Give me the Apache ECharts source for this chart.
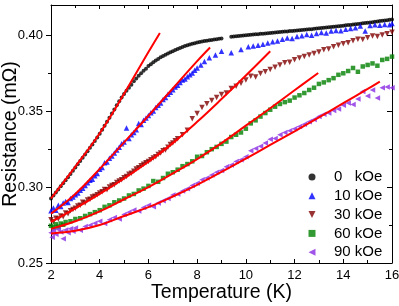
<!DOCTYPE html>
<html>
<head>
<meta charset="utf-8">
<script src="https://cdn.jsdelivr.net/npm/echarts@6/dist/echarts.min.js"></script>
<style>html,body{margin:0;padding:0;background:#fff}#c{width:399px;height:306px}</style>
</head>
<body>
<div id="c"></div>
<script>
// ---- data ----
var seriesNames = ['0   kOe', '10 kOe', '30 kOe', '60 kOe', '90 kOe'];
var xTicks = [2, 4, 6, 8, 10, 12, 14, 16];
var yTickLabels = [0.25, 0.30, 0.35, 0.40];
var yMinorTicks = [0.275, 0.325, 0.375];

var t0 = [2.0,2.1,2.2,2.3,2.4,2.5,2.6,2.7,2.8,2.9,3.0,3.1,3.2,3.3,3.4,3.5,3.6,3.7,3.8,3.9,
          4.0,4.1,4.2,4.3,4.4,4.5,4.6,4.7,4.8,4.9,5.0,5.1,5.2,5.3,5.4,5.5,5.6,5.7,5.8,5.9,
          6.0,6.1,6.2,6.3,6.4,6.5,6.6,6.7,6.8,6.9,7.0,7.1,7.2,7.3,7.4,7.5,7.6,7.7,7.8,7.9,
          8.0,8.1,8.2,8.3,8.4,8.5,8.6,8.7,8.8,8.9,9.0,
          9.4,9.5,9.6,9.7,9.8,9.9,10.0,10.1,10.2,10.3,10.4,10.5,10.6,10.7,10.8,10.9,
          11.0,11.1,11.2,11.3,11.4,11.5,11.6,11.7,11.8,11.9,12.0,12.1,12.2,12.3,12.4,12.5,12.6,12.7,12.8,12.9,
          13.0,13.1,13.2,13.3,13.4,13.5,13.6,13.7,13.8,13.9,14.0,14.1,14.2,14.3,14.4,14.5,14.6,14.7,14.8,14.9,
          15.0,15.1,15.2,15.3,15.4,15.5,15.6,15.7,15.8,15.9,16.0];
var r0 = [0.2925,0.2945,0.2965,0.2985,0.3005,0.3025,0.3045,0.3065,0.3086,0.3108,0.3130,0.3151,0.3172,0.3193,0.3215,0.3237,0.3259,0.3281,0.3304,0.3327,
          0.3352,0.3378,0.3404,0.3430,0.3457,0.3485,0.3512,0.3540,0.3565,0.3590,0.3613,0.3635,0.3655,0.3675,0.3697,0.3716,0.3734,0.3750,0.3766,0.3780,
          0.3798,0.3810,0.3822,0.3834,0.3845,0.3855,0.3864,0.3872,0.3880,0.3888,0.3896,0.3903,0.3910,0.3917,0.3924,0.3930,0.3935,0.3940,0.3944,0.3948,
          0.3953,0.3957,0.3960,0.3963,0.3965,0.3968,0.3970,0.3972,0.3975,0.3977,0.3980,
          0.3990,0.3992,0.3994,0.3996,0.3998,0.3999,0.4001,0.4002,0.4004,0.4005,0.4007,0.4008,0.4010,0.4011,0.4013,0.4014,
          0.4016,0.4017,0.4019,0.4020,0.4022,0.4023,0.4025,0.4026,0.4028,0.4029,0.4031,0.4032,0.4034,0.4035,0.4037,0.4038,0.4040,0.4041,0.4043,0.4045,
          0.4047,0.4048,0.4050,0.4051,0.4053,0.4055,0.4057,0.4058,0.4060,0.4062,0.4064,0.4066,0.4068,0.4069,0.4071,0.4073,0.4075,0.4077,0.4079,0.4081,
          0.4083,0.4085,0.4087,0.4089,0.4091,0.4094,0.4096,0.4098,0.4100,0.4102,0.4104];

var t10 = [2.0,2.1,2.2,2.3,2.4,2.5,2.6,2.7,2.8,2.9,3.0,3.1,3.2,3.3,3.4,3.5,3.6,3.7,3.8,3.9,
           4.0,4.1,4.2,4.3,4.4,4.5,4.6,4.7,4.8,4.9,5.0,5.1,5.2,5.3,5.4,5.5,5.6,5.7,5.8,5.9,
           6.0,6.1,6.2,6.3,6.4,6.5,6.6,6.7,6.8,6.9,7.0,7.1,7.2,7.3,7.4,7.5,7.6,7.7,7.8,7.9,
           8.0,8.15,8.3,8.5,8.75,9.0,9.4,9.8,10.1,10.3,10.5,10.7,10.9,11.1,11.3,11.5,11.7,11.9,
           12.1,12.3,12.5,12.7,12.9,13.1,13.3,13.5,13.7,13.9,14.1,14.3,14.5,14.7,14.9,15.1,15.3,15.5,15.7,15.9,16.0];
var r10 = [0.2845,0.2862,0.2848,0.2880,0.2872,0.2895,0.2905,0.2898,0.2925,0.2935,0.2950,0.2962,0.2980,0.2992,0.3010,0.3028,0.3045,0.3052,0.3075,0.3090,
           0.3118,0.3130,0.3160,0.3165,0.3190,0.3205,0.3225,0.3245,0.3262,0.3285,0.3298,0.3390,0.3320,0.3345,0.3360,0.3378,0.3420,0.3412,0.3440,0.3455,
           0.3472,0.3490,0.3502,0.3525,0.3540,0.3555,0.3578,0.3590,0.3612,0.3625,0.3642,0.3660,0.3672,0.3690,0.3705,0.3712,0.3728,0.3740,0.3752,0.3770,
           0.3785,0.3805,0.3828,0.3852,0.3870,0.3895,0.3885,0.3906,0.3925,0.3930,0.3935,0.3942,0.3950,0.3958,0.3962,0.3975,0.3982,0.3980,
           0.3992,0.3998,0.4005,0.4000,0.4012,0.4018,0.4015,0.4028,0.4032,0.4030,0.4040,0.4045,0.4050,0.4062,0.4028,0.4065,0.4070,0.4066,0.4072,0.4070,0.4078];

var t30 = [2.0,2.1,2.2,2.3,2.4,2.5,2.6,2.7,2.8,2.9,3.0,3.1,3.2,3.3,3.4,3.5,3.6,3.7,3.8,3.9,
           4.0,4.1,4.2,4.3,4.4,4.5,4.6,4.7,4.8,4.9,5.0,5.1,5.2,5.3,5.4,5.5,5.6,5.7,5.8,5.9,
           6.0,6.1,6.2,6.3,6.4,6.5,6.6,6.7,6.8,6.9,7.0,7.1,7.2,7.4,7.6,7.8,8.0,8.2,8.4,8.6,
           8.8,9.0,9.2,9.4,9.6,9.8,10.0,10.2,10.4,10.6,10.8,11.0,11.2,11.4,11.6,11.8,
           12.0,12.2,12.4,12.6,12.8,13.0,13.2,13.4,13.6,13.8,14.0,14.2,14.4,14.6,14.8,15.0,15.2,15.4,15.6,15.8,16.0];
var r30 = [0.2785,0.2772,0.2795,0.2790,0.2810,0.2805,0.2830,0.2825,0.2845,0.2852,0.2860,0.2875,0.2880,0.2900,0.2895,0.2915,0.2920,0.2935,0.2940,0.2950,
           0.2962,0.2970,0.2985,0.2982,0.3000,0.3010,0.3015,0.3030,0.3040,0.3048,0.3062,0.3070,0.3085,0.3092,0.3105,0.3120,0.3128,0.3140,0.3150,0.3160,
           0.3168,0.3180,0.3192,0.3200,0.3215,0.3225,0.3240,0.3245,0.3262,0.3280,0.3290,0.3305,0.3318,0.3345,0.3375,0.3450,0.3485,0.3525,0.3550,0.3570,
           0.3590,0.3610,0.3620,0.3650,0.3665,0.3685,0.3705,0.3730,0.3725,0.3748,0.3760,0.3775,0.3790,0.3805,0.3820,0.3822,
           0.3840,0.3850,0.3860,0.3870,0.3880,0.3890,0.3905,0.3910,0.3925,0.3935,0.3945,0.3952,0.3965,0.3975,0.3972,0.3985,0.3995,0.3992,0.4002,0.4010,0.4020];

var t60 = [2.0,2.1,2.2,2.3,2.4,2.5,2.6,2.8,3.0,3.2,3.4,3.6,3.8,4.0,4.2,4.4,4.6,4.8,5.0,5.2,5.4,5.6,5.8,
           6.0,6.2,6.4,6.6,6.8,7.0,7.2,7.4,7.6,7.8,8.0,8.2,8.4,8.6,8.8,9.0,9.2,9.4,9.6,9.8,
           10.0,10.2,10.4,10.6,10.8,11.0,11.2,11.4,11.6,11.8,12.0,12.2,12.4,12.6,12.8,13.0,13.2,13.4,13.6,13.8,
           14.0,14.2,14.4,14.6,14.8,15.0,15.2,15.4,15.6,15.8,16.0];
var r60 = [0.2745,0.2735,0.2755,0.2740,0.2760,0.2752,0.2770,0.2775,0.2790,0.2795,0.2810,0.2822,0.2835,0.2848,0.2870,0.2880,0.2900,0.2912,0.2925,0.2945,0.2955,0.2978,0.2990,
           0.3008,0.3040,0.3035,0.3060,0.3088,0.3098,0.3115,0.3138,0.3152,0.3170,0.3200,0.3205,0.3230,0.3250,0.3265,0.3285,0.3300,0.3330,0.3345,0.3360,
           0.3385,0.3420,0.3440,0.3465,0.3488,0.3510,0.3530,0.3548,0.3560,0.3570,0.3590,0.3605,0.3620,0.3640,0.3655,0.3680,0.3690,0.3705,0.3718,0.3740,
           0.3750,0.3765,0.3785,0.3760,0.3795,0.3805,0.3815,0.3800,0.3838,0.3845,0.3860];

var t90 = [2.0,2.05,2.1,2.2,2.3,2.4,2.5,2.6,2.7,2.8,2.9,3.0,3.2,3.4,3.6,3.8,4.0,4.2,4.4,4.6,4.8,5.0,5.2,5.4,5.6,5.8,
           6.0,6.2,6.4,6.6,6.8,7.0,7.2,7.4,7.6,7.8,8.0,8.2,8.4,8.6,8.8,9.0,9.2,9.4,9.6,9.8,
           10.0,10.2,10.4,10.6,10.8,11.0,11.2,11.4,11.6,11.8,12.0,12.2,12.4,12.6,12.8,13.0,13.2,13.4,13.6,13.8,
           14.0,14.2,14.4,14.6,14.8,15.0,15.2,15.4,15.6,15.8,16.0];
var r90 = [0.2700,0.2670,0.2715,0.2690,0.2720,0.2705,0.2660,0.2718,0.2700,0.2725,0.2710,0.2730,0.2715,0.2740,0.2748,0.2762,0.2775,0.2760,0.2785,0.2800,0.2790,0.2820,0.2835,0.2850,0.2842,0.2865,
           0.2880,0.2870,0.2895,0.2910,0.2925,0.2948,0.2955,0.2975,0.2990,0.3010,0.3025,0.3048,0.3060,0.3080,0.3098,0.3110,0.3135,0.3145,0.3168,0.3180,
           0.3200,0.3240,0.3255,0.3270,0.3290,0.3315,0.3320,0.3345,0.3360,0.3372,0.3385,0.3400,0.3415,0.3430,0.3445,0.3465,0.3480,0.3488,0.3505,0.3515,
           0.3540,0.3555,0.3545,0.3580,0.3630,0.3600,0.3640,0.3588,0.3655,0.3660,0.3655];

// fitted curves (red)
var fitT0 = [2, 3, 4, 5, 6, 6.47];
var fitR0 = [0.2925, 0.3135, 0.3355, 0.3615, 0.3890, 0.4016];
var fitT10 = [2, 3, 4, 5, 6, 7, 8, 8.53];
var fitR10 = [0.2825, 0.2955, 0.3120, 0.3295, 0.3470, 0.3650, 0.3830, 0.3920];
var fitT30 = [2, 3, 4, 5, 6, 7, 8, 9, 10, 11];
var fitR30 = [0.2771, 0.2860, 0.2955, 0.3057, 0.3167, 0.3290, 0.3430, 0.3580, 0.3735, 0.3895];
var fitT60 = [2, 3, 4, 5, 6, 7, 8, 9, 10, 11, 12, 12.97];
var fitR60 = [0.2725, 0.2775, 0.2840, 0.2920, 0.3000, 0.3090, 0.3185, 0.3290, 0.3405, 0.3520, 0.3638, 0.3752];
var fitT90 = [2, 3, 4, 5, 6, 7, 8, 9, 10, 11, 12, 13, 14, 15, 15.5];
var fitR90 = [0.2695, 0.2712, 0.2750, 0.2810, 0.2868, 0.2938, 0.3015, 0.3100, 0.3188, 0.3278, 0.3368, 0.3460, 0.3553, 0.3647, 0.3695];

// ---- build chart ----
function zip(a, b) { var o = []; for (var i = 0; i < a.length; i++) o.push([a[i], b[i]]); return o; }

var colors = ['#000000', '#0000ff', '#800000', '#008000', '#8a2be2'];
var downTri = 'path://M0,0L10,0L5,10Z';
var leftTri = 'path://M10,0L10,10L0,5Z';
var symbols = ['circle', 'triangle', downTri, 'rect', leftTri];
var sizes = [4, 5.5, 5.5, 4.5, 5.5];
var dataSets = [[t0, r0], [t10, r10], [t30, r30], [t60, r60], [t90, r90]];
var fits = [[fitT0, fitR0], [fitT10, fitR10], [fitT30, fitR30], [fitT60, fitR60], [fitT90, fitR90]];

var series = [];
for (var i = 0; i < 5; i++) {
  series.push({
    name: seriesNames[i], type: 'scatter', xAxisIndex: 0, yAxisIndex: 0,
    symbol: symbols[i], symbolSize: sizes[i],
    itemStyle: { color: colors[i] },
    data: zip(dataSets[i][0], dataSets[i][1]), z: 2, silent: true
  });
}
for (var j = 0; j < 5; j++) {
  series.push({
    name: 'fit' + j, type: 'line', xAxisIndex: 0, yAxisIndex: 0,
    smooth: 0.4, showSymbol: false, symbol: 'none',
    lineStyle: { color: '#ff0000', width: 2 },
    data: zip(fits[j][0], fits[j][1]), z: 5, silent: true
  });
}

var font = 'Liberation Sans, Arial, Helvetica, sans-serif';
var lineStyle = { color: '#000', width: 1 };

var option = {
  animation: false,
  textStyle: { fontFamily: font },
  grid: { left: 51, right: 7, top: 5, bottom: 43, containLabel: false, outerBoundsMode: 'none' },
  legend: {
    orient: 'vertical', left: 303.5, top: 164.5, itemGap: 3.8,
    itemWidth: 7, itemHeight: 7,
    textStyle: { fontSize: 15, color: '#000', fontFamily: font, padding: [0, 0, 0, 13.5] },
    data: seriesNames.map(function (n, k) { return { name: n, icon: symbols[k] }; })
  },
  xAxis: [
    { type: 'value', position: 'bottom', min: 2, max: 16, interval: 2,
      axisLine: { show: true, lineStyle: lineStyle },
      axisTick: { show: true, inside: true, length: 4, lineStyle: lineStyle },
      minorTick: { show: true, splitNumber: 2, length: 3, lineStyle: lineStyle },
      axisLabel: { fontSize: 13, color: '#000', margin: 6, fontFamily: font },
      splitLine: { show: false },
      name: 'Temperature (K)', nameLocation: 'middle', nameGap: 20, nameMoveOverlap: false,
      nameTextStyle: { fontSize: 19.5, color: '#000', fontFamily: font } },
    { type: 'value', position: 'top', min: 2, max: 16, interval: 2,
      axisLine: { show: true, onZero: false, lineStyle: lineStyle },
      axisTick: { show: true, inside: true, length: 4, lineStyle: lineStyle },
      minorTick: { show: true, splitNumber: 2, length: 3, lineStyle: lineStyle },
      axisLabel: { show: false }, splitLine: { show: false } }
  ],
  yAxis: [
    { type: 'value', position: 'left', min: 0.25, max: 0.42, interval: 0.05,
      axisLine: { show: true, onZero: false, lineStyle: lineStyle },
      axisTick: { show: true, inside: false, length: 5, lineStyle: lineStyle, customValues: yTickLabels },
      axisLabel: { fontSize: 13, color: '#000', margin: 8, fontFamily: font, customValues: yTickLabels,
                   formatter: function (v) { return v.toFixed(2); } },
      splitLine: { show: false },
      name: 'Resistance (mΩ)', nameLocation: 'middle', nameGap: 30, nameMoveOverlap: false,
      nameTextStyle: { fontSize: 19.5, color: '#000', fontFamily: font } },
    { type: 'value', position: 'right', min: 0.25, max: 0.42,
      axisLine: { show: true, onZero: false, lineStyle: lineStyle },
      axisTick: { show: true, inside: true, length: 5, lineStyle: lineStyle, customValues: yTickLabels },
      axisLabel: { show: false }, splitLine: { show: false } },
    { type: 'value', position: 'left', min: 0.25, max: 0.42,
      axisLine: { show: false },
      axisTick: { show: true, inside: false, length: 3, lineStyle: lineStyle, customValues: yMinorTicks },
      axisLabel: { show: false }, splitLine: { show: false } },
    { type: 'value', position: 'right', min: 0.25, max: 0.42,
      axisLine: { show: false },
      axisTick: { show: true, inside: true, length: 3, lineStyle: lineStyle, customValues: yMinorTicks },
      axisLabel: { show: false }, splitLine: { show: false } }
  ],
  series: series
};

var chart = echarts.init(document.getElementById('c'), null, { renderer: 'canvas' });
chart.setOption(option);
</script>
</body>
</html>
